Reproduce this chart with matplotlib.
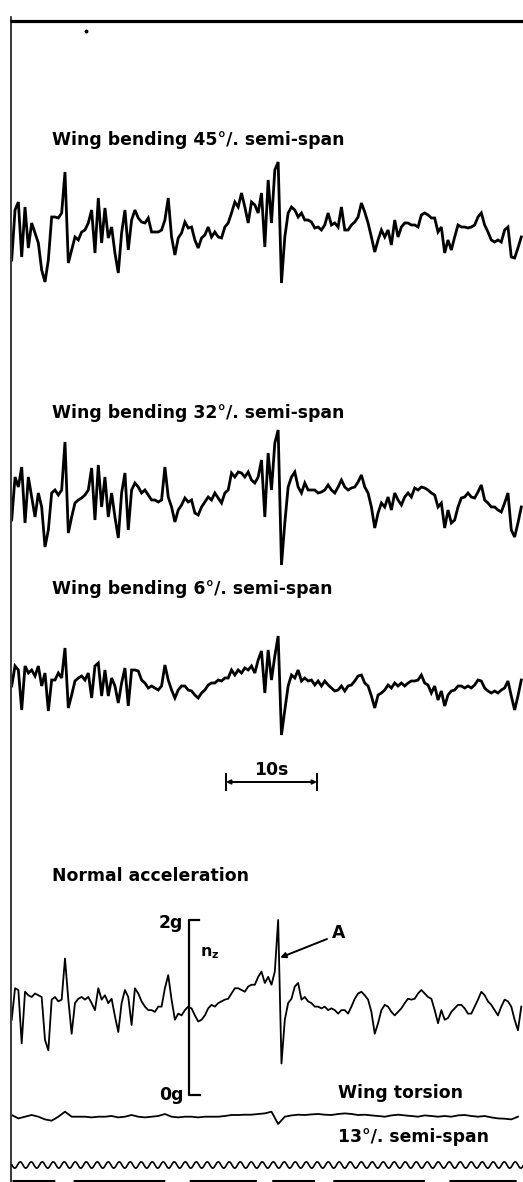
"""Flight record: wing bending, normal acceleration and wing torsion traces."""
import matplotlib

matplotlib.use("Agg")
import matplotlib.pyplot as plt

W, H = 523, 1182
DPI = 100

PX_PER_S = 9.1      # record speed, px per second
X0 = 11.7           # left edge of the records, px
DT = 0.366          # s between bending / n_z samples
DT_TORSION = 0.732  # s between torsion samples

# bending records, deflection in record units (1 unit = 1 px), positive up
BEND_45 = [
    -30, 20, 28, -27, 23, -18, 7, -3, -13, -40,
    -52, -30, 13, 13, 12, 17, 58, -33, -20, -7,
    -10, -2, 0, 7, 20, -23, 32, -13, 22, -8,
    3, -23, -43, -3, 20, -20, 10, 20, 12, 8,
    7, 12, -2, -2, -2, 0, 10, 32, -7, -25,
    -8, -3, 8, 2, 3, -10, -18, -8, -5, 3,
    -7, -2, -7, -8, 3, 7, 17, 28, 23, 37,
    23, 7, 28, 25, 17, 37, -17, 50, 7, 60,
    68, -53, -7, 17, 23, 20, 13, 17, 10, 10,
    8, 2, 3, 0, 5, 17, 5, 7, 3, 23,
    0, 0, 5, 8, 13, 27, 18, 7, -7, -22,
    -10, 0, -7, 0, -15, 10, -7, 3, 7, 7,
    5, 5, 3, 15, 17, 15, 12, 12, -2, 3,
    -23, -10, -20, -7, 5, 3, 3, 2, 3, 5,
    13, 17, 5, -2, -10, -12, -10, -12, 0, 3,
    -27, -28, -18, -7,
]
BEND_32 = [
    -20, 23, 13, 33, -23, 23, 3, -17, 7, -7,
    -47, -30, 7, 10, 5, 10, 58, -33, -17, -3,
    0, 2, 5, 10, 32, -20, 35, -7, 23, -17,
    7, -17, -38, 7, 27, -30, 10, 17, 13, 7,
    10, 5, 0, 0, -2, 0, 33, 3, -7, -22,
    -10, -5, 2, -2, 0, -13, -15, -7, -2, 3,
    0, 7, 2, -3, 7, 10, 27, 23, 28, 27,
    23, 28, 20, 17, 23, 40, -17, 47, 10, 57,
    70, -65, -23, 13, 23, 28, 13, 7, 17, 10,
    10, 10, 7, 8, 10, 15, 10, 7, 13, 20,
    13, 10, 12, 13, 18, 25, 13, 7, -7, -28,
    -13, -3, -7, 3, -10, 7, 0, -5, 3, 7,
    3, 12, 10, 13, 12, 10, 7, 5, -7, -3,
    -28, -10, -23, -20, -7, 2, 3, 7, 3, 2,
    8, 15, 0, -3, -7, -7, -10, -12, -3, 7,
    -30, -37, -23, -7,
]
BEND_6 = [
    -3, 17, 13, -27, 17, 10, 13, 7, 17, -3,
    10, -28, 3, 3, 10, 5, 35, -25, -12, 2,
    5, 7, 3, 10, -15, 17, 20, -13, 13, -13,
    5, -3, -20, 0, 15, -23, 13, 13, 12, 3,
    0, -5, -3, -5, -7, -3, 18, 3, -7, -15,
    -7, -3, -3, -7, -8, -12, -15, -10, -7, -2,
    0, 0, 3, 2, 5, 5, 13, 8, 13, 10,
    15, 13, 17, 10, 23, 32, -10, 33, 3, 27,
    47, -52, -27, -3, 8, 5, 13, 2, 5, 2,
    3, -2, 2, -3, 2, -2, -5, -8, -7, -3,
    -8, -3, -2, 2, 7, 8, 0, -3, -13, -25,
    -12, -10, -7, -2, -5, 0, -3, 0, -3, 0,
    2, 2, 3, 8, 0, -2, -10, -3, -17, -8,
    -23, -12, -8, -7, -3, -3, -5, -3, -5, -2,
    3, 2, -5, -8, -10, -8, -10, -7, -5, 2,
    -13, -27, -13, 3,
]
# normal acceleration, g
NZ = [
    0.86, 1.22, 1.20, 0.59, 1.18, 1.14, 1.12, 1.16, 1.14, 1.12,
    0.63, 0.51, 1.09, 1.12, 1.07, 1.09, 1.56, 1.09, 0.70, 1.05,
    1.10, 1.12, 1.09, 1.12, 1.05, 0.97, 1.22, 1.09, 1.14, 1.05,
    1.10, 0.90, 0.72, 1.05, 1.20, 1.12, 0.80, 1.22, 1.16, 1.07,
    1.01, 0.97, 0.97, 0.95, 1.01, 1.01, 1.22, 1.37, 1.09, 0.86,
    0.93, 0.91, 0.97, 1.01, 0.99, 0.91, 0.84, 0.86, 0.91, 0.99,
    1.03, 1.01, 1.05, 1.07, 1.09, 1.10, 1.16, 1.22, 1.22, 1.20,
    1.18, 1.24, 1.26, 1.26, 1.35, 1.41, 1.28, 1.35, 1.26, 1.41,
    2.00, 0.36, 0.86, 1.05, 1.10, 1.24, 1.28, 1.09, 1.12, 1.07,
    1.05, 1.01, 1.01, 0.99, 1.01, 0.97, 0.99, 0.97, 0.93, 0.97,
    0.97, 0.93, 1.01, 1.10, 1.16, 1.18, 1.14, 1.09, 0.95, 0.70,
    0.82, 0.97, 1.03, 1.01, 0.95, 0.91, 0.95, 0.99, 1.05, 1.10,
    1.09, 1.10, 1.16, 1.20, 1.16, 1.12, 1.10, 0.97, 0.82, 0.97,
    0.86, 0.88, 0.95, 0.99, 1.03, 1.03, 0.99, 0.93, 0.93, 1.01,
    1.09, 1.18, 1.14, 1.07, 1.03, 0.97, 0.91, 1.01, 1.09, 1.07,
    1.01, 0.86, 0.74, 1.01,
]
# wing torsion 13% semi-span, record units
TORSION = [
    1.7, -1.7, 0, 1.7, 0, -2.7, -4.0, 0, 5.0, 0,
    0, 0, -0.7, 0, 0, 0.7, -0.7, 0, 1.7, 0,
    -0.7, 0, 0.7, 2.7, 0, -0.7, 0, 0, -0.7, 0,
    0, 0, 0.7, 1.7, 1.7, 2.0, 2.0, 2.7, 3.3, 5.0,
    -7.3, 0, 1.3, 2.0, 1.7, 2.3, 2.7, 2.0, 1.7, 2.7,
    3.3, 2.7, 1.7, 2.0, 1.3, 0.7, 0, 1.3, 2.0, 1.3,
    0.7, 0, 1.3, 0.7, 0, 0.7, 0, 1.3, 1.7, 0.7,
    0, 0.7, -0.7, -1.7, -2.0, -2.7, 0,
]

SCALE_BAR_S = 10
NZ_SCALE = (0, 2)          # g, ends of the n_z bracket
POINT_A = (29.5, 1.57)     # s, g

FS = 12.4
FONT = dict(family="DejaVu Sans", fontweight="bold", color="black")


def t_of(px):
    return (px - X0) / PX_PER_S


def rec_axes(fig, centre_px, half_px, per_px=1.0, centre=0.0):
    ax = fig.add_axes([X0 / W, 1 - (centre_px + half_px) / H,
                       1 - X0 / W, 2 * half_px / H])
    ax.set_xlim(0, (W - X0) / PX_PER_S)
    ax.set_ylim(centre - half_px * per_px, centre + half_px * per_px)
    ax.set_axis_off()
    ax.patch.set_alpha(0)
    return ax


fig = plt.figure(figsize=(W / DPI, H / DPI), dpi=DPI)

# page furniture in pixel coordinates
page = fig.add_axes([0, 0, 1, 1])
page.set_xlim(0, W)
page.set_ylim(H, 0)
page.set_axis_off()
page.plot([10, W], [21, 21], color="black", lw=2.3, solid_capstyle="butt")
page.plot([10.5, 10.5], [17, H], color="black", lw=1.1)
page.plot([86], [31], "o", color="black", ms=1.8)

labels = [
    (52, 140, "Wing bending 45°/. semi-span"),
    (52, 413, "Wing bending 32°/. semi-span"),
    (52, 589, "Wing bending 6°/. semi-span"),
    (52, 876, "Normal acceleration"),
    (338, 1093, "Wing torsion"),
    (338, 1137, "13°/. semi-span"),
    (332, 933, "A"),
]
for x, y, s in labels:
    page.text(x, y, s, ha="left", va="center", fontsize=FS, **FONT)

# timing wave along the bottom edge
wave, = page.plot([12, W], [1165, 1165], color="black", lw=1.2)
wave.set_sketch_params(scale=3.2, length=11, randomness=1)
page.plot([12, W], [1180.5, 1180.5], color="black", lw=2.2,
          dashes=(14, 6, 30, 8, 22, 5))

# wing bending records
for series, base in ((BEND_45, 230), (BEND_32, 500), (BEND_6, 683)):
    ax = rec_axes(fig, base, 80)
    t = [i * DT for i in range(len(series))]
    ax.plot(t, series, color="black", lw=2.0, solid_joinstyle="miter")

# time scale
ax = rec_axes(fig, 782, 20)
t0 = t_of(226)
t1 = t0 + SCALE_BAR_S
ax.plot([t0, t0], [-8, 8], color="black", lw=1.4)
ax.plot([t1, t1], [-8, 8], color="black", lw=1.4)
ax.annotate("", xy=(t0, 0), xytext=(t1, 0),
            arrowprops=dict(arrowstyle="<|-|>", color="black", lw=1.4,
                            mutation_scale=6, shrinkA=0, shrinkB=0))
ax.text((t0 + t1) / 2, 12, f"{SCALE_BAR_S}s", ha="center", va="center",
        fontsize=FS, **FONT)

# normal acceleration
G_PX = 87.5
ax = rec_axes(fig, 1007.5, 110, per_px=1 / G_PX, centre=1.0)
t = [i * DT for i in range(len(NZ))]
ax.plot(t, NZ, color="black", lw=1.3)
tb = t_of(189)
lo, hi = NZ_SCALE
ax.plot([tb + 1.1, tb, tb, tb + 1.2], [hi, hi, lo, lo], color="black", lw=1.6)
ax.annotate(f"{hi}g", (tb, hi), xytext=(-4, -2), textcoords="offset points",
            ha="right", va="center", fontsize=FS, **FONT)
ax.annotate(f"{lo}g", (tb, lo), xytext=(-4, 0), textcoords="offset points",
            ha="right", va="center", fontsize=FS, **FONT)
ax.annotate(r"n$_\mathbf{z}$", (tb, hi), xytext=(8, -24),
            textcoords="offset points", ha="left", va="center",
            fontsize=FS - 1, **FONT)
ax.annotate("", xy=POINT_A, xytext=(t_of(327), 1 + (1007.5 - 939) / G_PX),
            arrowprops=dict(arrowstyle="-|>", color="black", lw=1.4,
                            mutation_scale=8, shrinkA=0, shrinkB=0))

# wing torsion
ax = rec_axes(fig, 1116.7, 12)
t = [i * DT_TORSION for i in range(len(TORSION))]
ax.plot(t, TORSION, color="black", lw=1.3)

fig.savefig("out.png", dpi=DPI)
